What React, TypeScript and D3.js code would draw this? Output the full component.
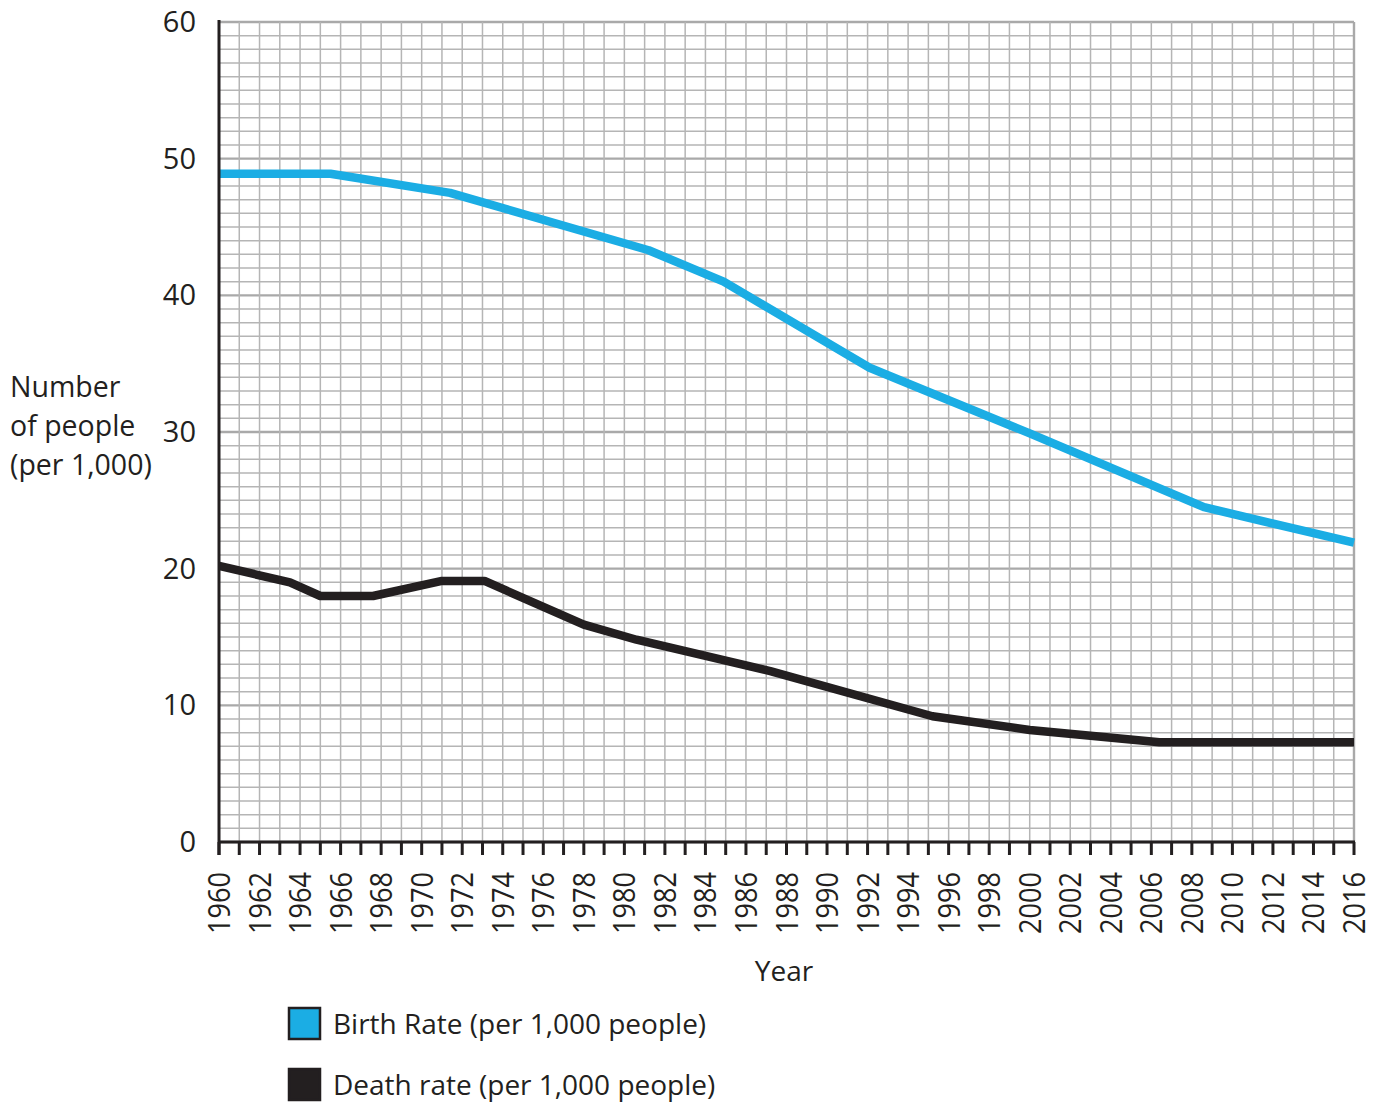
import React from "react";
import * as d3 from "d3";

const birthYears = [1960, 1965.5, 1971.4, 1981.2, 1984.9, 1992.1, 2000, 2008.6, 2016];
const birthValues = [48.9, 48.9, 47.5, 43.3, 41.0, 34.7, 29.9, 24.5, 21.9];
const deathYears = [1960, 1963.5, 1965, 1967.6, 1971, 1973.1, 1978, 1980.6, 1987.2, 1995.2, 2000, 2006.4, 2016];
const deathValues = [20.2, 19.0, 18.0, 18.0, 19.1, 19.1, 15.9, 14.8, 12.5, 9.2, 8.2, 7.3, 7.3];
const yTicks = [0, 10, 20, 30, 40, 50, 60];
const yearLabels = d3.range(1960, 2017, 2);
const legendItems = ["Birth Rate (per 1,000 people)", "Death rate (per 1,000 people)"];
const yTitle = ["Number", "of people", "(per 1,000)"];

const W = 1383, H = 1106;
const L = 219, R = 1354, T = 22, B = 842;
const BLUE = "#1badE4";
const DARK = "#231f20";
const GRID = "#b5b5b5";
const FONT = "'Open Sans', 'Noto Sans', sans-serif";

export default function App() {
  const x = d3.scaleLinear().domain([1960, 2016]).range([L, R]);
  const y = d3.scaleLinear().domain([0, 60]).range([B, T]);
  const line = d3.line<[number, number]>().x(d => x(d[0])).y(d => y(d[1]));
  const birth = line(birthYears.map((yr, i) => [yr, birthValues[i]]) as [number, number][]);
  const death = line(deathYears.map((yr, i) => [yr, deathValues[i]]) as [number, number][]);
  const minorY = d3.range(0, 61, 1);
  const minorX = d3.range(1960, 2017, 1);

  return (
    <svg width={W} height={H} style={{ position: "absolute", left: 0, top: 0, background: "#fff" }} fontFamily={FONT}>
      <rect x={0} y={0} width={W} height={H} fill="#fff" />
      {minorY.map(v => (
        <line key={"gy" + v} x1={L} x2={R} y1={y(v)} y2={y(v)}
          stroke={v % 10 === 0 ? "#a9a9a9" : GRID} strokeWidth={v % 10 === 0 ? 2.4 : 1.5} />
      ))}
      {minorX.map(v => (
        <line key={"gx" + v} x1={x(v)} x2={x(v)} y1={T} y2={B}
          stroke={v === 2016 ? "#a9a9a9" : GRID} strokeWidth={v === 2016 ? 2.4 : 1.5} />
      ))}
      <path d={birth || ""} fill="none" stroke={BLUE} strokeWidth={8.5} strokeLinejoin="round" />
      <path d={death || ""} fill="none" stroke={DARK} strokeWidth={8.5} strokeLinejoin="round" />
      <line x1={L} x2={L} y1={T - 2} y2={B + 13} stroke={DARK} strokeWidth={3} />
      <line x1={L} x2={R + 1} y1={B} y2={B} stroke={DARK} strokeWidth={3} />
      {minorX.map(v => (
        <line key={"tk" + v} x1={x(v)} x2={x(v)} y1={B} y2={B + 13} stroke={DARK} strokeWidth={3} />
      ))}
      {yTicks.map(v => (
        <text key={"yt" + v} x={196} y={y(v) + 10} textAnchor="end" fontSize={29} fill={DARK}>{v}</text>
      ))}
      {yearLabels.map(v => (
        <text key={"xl" + v} transform={`translate(${x(v) + 11},872) rotate(-90)`} textAnchor="end"
          fontSize={31} fill={DARK} textLength={62} lengthAdjust="spacingAndGlyphs">{v}</text>
      ))}
      {yTitle.map((t, i) => (
        <text key={"ytl" + i} x={10} y={397 + i * 39} fontSize={28.5} fill={DARK}>{t}</text>
      ))}
      <text x={784} y={981} textAnchor="middle" fontSize={28} fill={DARK}>Year</text>
      {legendItems.map((t, i) => (
        <g key={"lg" + i}>
          <rect x={289} y={1008 + i * 61} width={31} height={31} fill={i === 0 ? BLUE : DARK} stroke={DARK} strokeWidth={2.5} />
          <text x={333} y={1034 + i * 61} fontSize={28} fill={DARK}>{t}</text>
        </g>
      ))}
    </svg>
  );
}
